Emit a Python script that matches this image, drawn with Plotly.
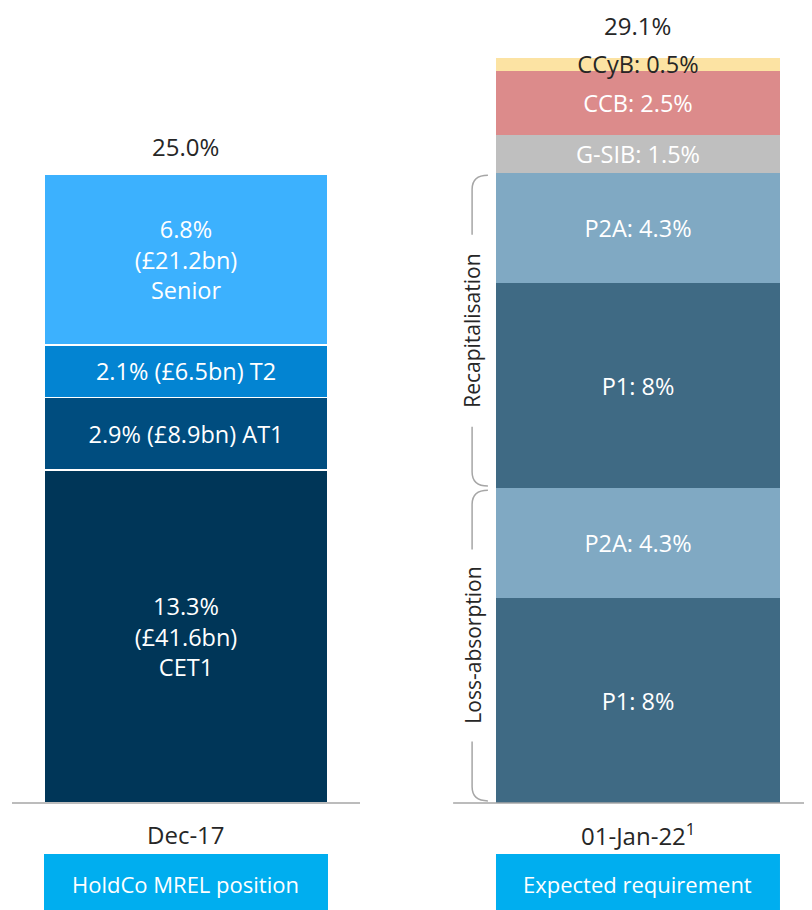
import plotly.graph_objects as go

# ---------------- data ----------------
categories = ["Dec-17", "01-Jan-22<sup>1</sup>"]
box_labels = ["HoldCo MREL position", "Expected requirement"]
totals = [25.0, 29.1]

left_names = ["CET1", "AT1", "T2", "Senior"]
left_values = [13.3, 2.9, 2.1, 6.8]
left_bn = [41.6, 8.9, 6.5, 21.2]
left_colors = ["#003658", "#004d7f", "#0384d2", "#3cb1fe"]

right_names = ["P1", "P2A", "P1", "P2A", "G-SIB", "CCB", "CCyB"]
right_values = [8, 4.3, 8, 4.3, 1.5, 2.5, 0.5]
right_colors = ["#3f6a84", "#80a9c3", "#3f6a84", "#80a9c3", "#bfbfbf", "#dc8b8b", "#fce3a3"]
right_text_colors = ["white"] * 6 + ["#262626"]

groups = ["Loss-absorption", "Recapitalisation"]
group_sizes = [2, 2]  # number of right-bar segments in each group

FONT = "Open Sans"
W, H = 804, 902          # page body has an 8px margin
MB = 107
PLOT_H = H - MB          # 795
BAR_W = 0.6283
TXT = "#262626"

fig = go.Figure()

# left bar (stacked)
for n, v, bn, c in zip(left_names, left_values, left_bn, left_colors):
    if n in ("CET1", "Senior"):
        txt = f"{v:.1f}%<br>(£{bn:.1f}bn)<br>{n}"
    else:
        txt = f"{v:.1f}% (£{bn:.1f}bn) {n}"
    fig.add_trace(go.Bar(
        x=[0], y=[v], width=BAR_W, marker=dict(color=c, line=dict(color="white", width=1.5)),
        text=[txt], textposition="inside", insidetextanchor="middle", textangle=0,
        textfont=dict(family=FONT, size=24, color="white"),
        hoverinfo="skip", showlegend=False, xaxis="x", yaxis="y",
    ))

# right bar (stacked)
for n, v, c, tc in zip(right_names, right_values, right_colors, right_text_colors):
    fig.add_trace(go.Bar(
        x=[1], y=[v], width=BAR_W, marker=dict(color=c, line=dict(width=0)),
        text=[f"{n}: {v:g}%"], textposition="inside", insidetextanchor="middle", textangle=0,
        textfont=dict(family=FONT, size=23.5, color=tc), cliponaxis=False,
        hoverinfo="skip", showlegend=False, xaxis="x", yaxis="y2",
    ))

annotations = []
shapes = []

# totals above bars
for i, (t, yr) in enumerate(zip(totals, ["y", "y2"])):
    annotations.append(dict(x=i, y=t, xref="x", yref=yr, text=f"{t:.1f}%",
                            showarrow=False, yanchor="middle", yshift=31 if i == 0 else 33,
                            font=dict(family=FONT, size=24, color=TXT)))

# category labels and boxes
for i, (cat, bl) in enumerate(zip(categories, box_labels)):
    annotations.append(dict(x=i, y=0, xref="x", yref="paper", text=cat, showarrow=False,
                            yanchor="middle", yshift=-31,
                            font=dict(family=FONT, size=24, color=TXT)))
    shapes.append(dict(type="rect", xref="x", yref="paper",
                       x0=i - BAR_W / 2, x1=i + BAR_W / 2,
                       y0=-51 / PLOT_H, y1=-112 / PLOT_H,
                       fillcolor="#00aeef", line=dict(width=0), layer="above"))
    annotations.append(dict(x=i, y=0, xref="x", yref="paper", text=bl, showarrow=False,
                            yanchor="middle", yshift=-81,
                            font=dict(family=FONT, size=22, color="white")))

# baseline segments
for x0, x1 in [(-0.385, 0.385), (0.591, 1.39)]:
    shapes.append(dict(type="line", xref="x", yref="paper", x0=x0, x1=x1, y0=0, y1=0,
                       line=dict(color="#a6a6a6", width=1.5)))

# braces for groups on right bar
xl, xe = 0.633, 0.668
r = 0.55
gap_half = 3.75
start = 0.0
idx = 0
for g, gs in zip(groups, group_sizes):
    seg = sum(right_values[idx:idx + gs])
    lo, hi = start + 0.08, start + seg - 0.08
    mid = start + seg / 2
    path = (f"M {xe},{hi} Q {xl},{hi} {xl},{hi - r} L {xl},{mid + gap_half} "
            f"M {xl},{mid - gap_half} L {xl},{lo + r} Q {xl},{lo} {xe},{lo}")
    shapes.append(dict(type="path", xref="x", yref="y2", path=path,
                       line=dict(color="#a6a6a6", width=1.5)))
    annotations.append(dict(x=xl, y=mid, xref="x", yref="y2", text=g, showarrow=False,
                            textangle=-90, xanchor="center", yanchor="middle",
                            font=dict(family=FONT, size=21, color=TXT)))
    start += seg
    idx += gs

fig.update_layout(
    width=W, height=H, barmode="stack",
    margin=dict(l=0, r=0, t=0, b=MB, pad=0),
    plot_bgcolor="white", paper_bgcolor="white",
    showlegend=False,
    uniformtext=dict(minsize=23.5, mode="show"),
    xaxis=dict(range=[-0.3938, 1.385], visible=False, fixedrange=True),
    yaxis=dict(range=[0, PLOT_H / 25.04], visible=False, fixedrange=True),
    yaxis2=dict(range=[0, PLOT_H / 25.6], visible=False, overlaying="y", fixedrange=True),
    annotations=annotations, shapes=shapes,
    font=dict(family=FONT),
)

fig.write_html("out.html")
